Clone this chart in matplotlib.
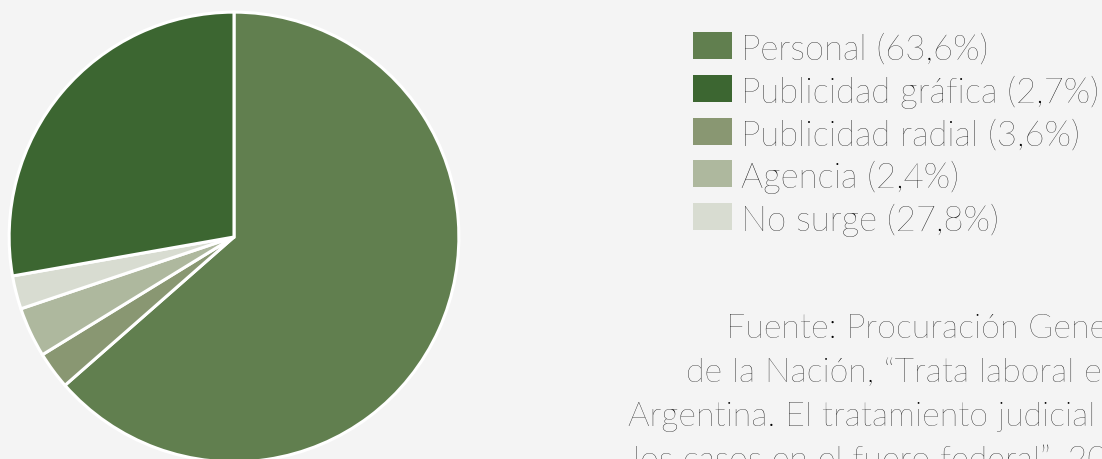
import matplotlib.pyplot as plt
from matplotlib.patches import Rectangle

# data
categorias = ["Personal", "Publicidad gráfica", "Publicidad radial", "Agencia", "No surge"]
porcentajes = [63.6, 2.7, 3.6, 2.4, 27.8]
etiquetas = ["Personal (63,6%)", "Publicidad gráfica (2,7%)", "Publicidad radial (3,6%)",
             "Agencia (2,4%)", "No surge (27,8%)"]
colores_torta = ["#617f4f", "#899772", "#aeb89e", "#d8dcd1", "#3c6631"]
colores_leyenda = ["#617f4f", "#3c6631", "#899772", "#aeb89e", "#d8dcd1"]
fuente = ["Fuente: Procuración General",
          "de la Nación, “Trata laboral en",
          "Argentina. El tratamiento judicial de",
          "los casos en el fuero federal”, 2014."]

plt.rcParams['font.family'] = ['Lato', 'DejaVu Sans']
bg = "#f4f4f4"

W, H = 1102, 460
fig = plt.figure(figsize=(W / 100, H / 100), dpi=100, facecolor=bg)

# pie: center (234, 238), radius 226 px
cx, cy, r = 234, 238, 226
ax = fig.add_axes([(cx - r) / W, (H - cy - r) / H, 2 * r / W, 2 * r / H])
ax.pie(porcentajes, colors=colores_torta, startangle=90, counterclock=False,
       wedgeprops=dict(edgecolor="white", linewidth=2.2))
ax.set_xlim(-1.005, 1.005)
ax.set_ylim(-1.005, 1.005)
ax.axis("off")

# legend drawn by hand
lax = fig.add_axes([0, 0, 1, 1])
lax.set_xlim(0, W)
lax.set_ylim(H, 0)
lax.axis("off")
for i, (lab, col) in enumerate(zip(etiquetas, colores_leyenda)):
    y0 = 33 + i * 42.8
    lax.add_patch(Rectangle((693, y0), 39, 27, facecolor=col, edgecolor="none"))
    lax.text(741, y0 + 27, lab, fontsize=25, fontweight="light", color="#000000",
             va="baseline", ha="left")

# source note (lines centred in the original, cut by the right edge)
inicio = [726, 686, 628, 633]
for i, linea in enumerate(fuente):
    lax.text(inicio[i], 338 + i * 44, linea, fontsize=24.5, fontweight="light",
             color="#000000", ha="left", va="baseline")

fig.savefig("out.png", dpi=100, facecolor=bg)
